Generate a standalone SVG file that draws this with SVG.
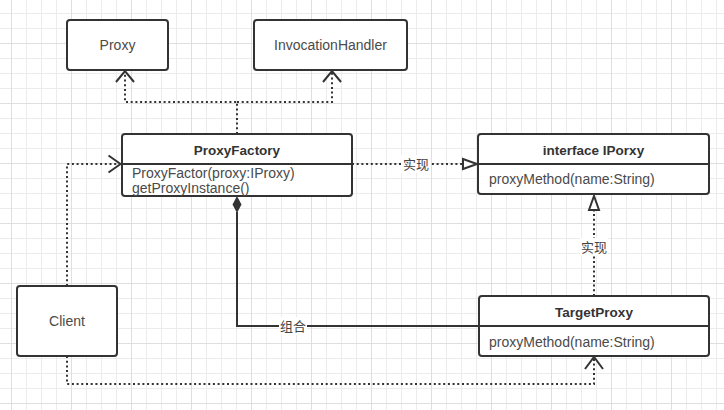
<svg xmlns="http://www.w3.org/2000/svg" width="724" height="410" viewBox="0 0 724 410">
<style>
.box{fill:#fff;stroke:#333;stroke-width:2}
.sep{stroke:#333;stroke-width:2}
.t{font-family:"Liberation Sans","Noto Sans CJK SC",sans-serif;font-size:14px;fill:#4a4a4a}
.c{text-anchor:middle;dominant-baseline:central}
.m{dominant-baseline:central}
.b{font-weight:bold;font-size:13.5px;fill:#333}
.dot{fill:none;stroke:#333;stroke-width:2;stroke-dasharray:2 2.7}
.solid{fill:none;stroke:#333;stroke-width:2}
.open{fill:none;stroke:#333;stroke-width:2}
.tri{fill:#fff;stroke:#333;stroke-width:2}
.lbl{font-family:"Liberation Sans","Noto Sans CJK SC",sans-serif;font-size:13px;fill:#444;text-anchor:middle;dominant-baseline:central}
</style>
<defs>
<pattern id="g1" patternUnits="userSpaceOnUse" x="11" y="13" width="15" height="15">
<path d="M0,0.5H15M0.5,0V15" stroke="#ececec" stroke-width="1" fill="none"/>
</pattern>
<pattern id="g2" patternUnits="userSpaceOnUse" x="11" y="43" width="60" height="60">
<path d="M0,0.5H60M0.5,0V60" stroke="#dfdfdf" stroke-width="1" fill="none"/>
</pattern>
</defs>
<rect width="724" height="410" fill="#fff"/>
<rect width="724" height="410" fill="url(#g1)"/>
<rect width="724" height="410" fill="url(#g2)"/>

<g id="connectors">
<path class="dot" d="M237,134V102H125V72"/>
<path class="dot" d="M237,102H332V72"/>
<polyline class="open" points="116,82 125,71 134,82"/>
<polyline class="open" points="323,82 332,71 341,82"/>

<path class="dot" d="M352,164H463"/>
<polygon class="tri" points="463,159 477,164 463,169"/>
<rect x="401" y="155" width="30" height="18" fill="#fff"/>
<text class="lbl" x="416" y="164">实现</text>

<path class="dot" d="M594,296V210"/>
<polygon class="tri" points="589,210 594,196 599,210"/>
<rect x="580" y="238" width="28" height="18" fill="#fff"/>
<text class="lbl" x="594" y="247">实现</text>

<path class="solid" d="M237,212V326H479"/>
<polygon points="237,196 241.5,204.5 237,213 232.5,204.5" fill="#333"/>
<rect x="279" y="317" width="28" height="18" fill="#fff"/>
<text class="lbl" x="293" y="326">组合</text>

<path class="dot" d="M67,286V164H120"/>
<polyline class="open" points="108.5,155.5 120.5,164 108.5,172.5"/>

<path class="dot" d="M67,356V384H594V358"/>
<polyline class="open" points="585,369 594,357 603,369"/>
</g>

<g id="proxy">
<rect class="box" x="67" y="20" width="101" height="50" rx="3"/>
<text class="t c" x="117.5" y="45">Proxy</text>
</g>

<g id="invocationHandler">
<rect class="box" x="254" y="20" width="153" height="50" rx="3"/>
<text class="t c" x="330.5" y="45">InvocationHandler</text>
</g>

<g id="proxyFactory">
<rect class="box" x="122" y="134" width="230" height="62" rx="3"/>
<line class="sep" x1="122" y1="164" x2="352" y2="164"/>
<text class="t c b" x="237" y="150">ProxyFactory</text>
<text class="t m" x="132" y="173">ProxyFactor(proxy:IProxy)</text>
<text class="t m" x="132" y="188">getProxyInstance()</text>
</g>

<g id="iproxy">
<rect class="box" x="478" y="134" width="231" height="60" rx="3"/>
<line class="sep" x1="478" y1="164" x2="709" y2="164"/>
<text class="t c b" x="593.5" y="150">interface IPorxy</text>
<text class="t m" x="489" y="179">proxyMethod(name:String)</text>
</g>

<g id="targetProxy">
<rect class="box" x="479" y="296" width="230" height="60" rx="3"/>
<line class="sep" x1="479" y1="326" x2="709" y2="326"/>
<text class="t c b" x="594" y="312">TargetProxy</text>
<text class="t m" x="489" y="342">proxyMethod(name:String)</text>
</g>

<g id="client">
<rect class="box" x="17" y="286" width="100" height="70" rx="3"/>
<text class="t c" x="67" y="321">Client</text>
</g>
</svg>
